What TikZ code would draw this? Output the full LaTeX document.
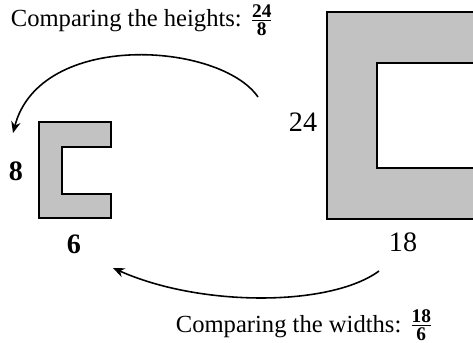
\documentclass[tikz,border=0pt]{standalone}
\usepackage{fontspec}
\usepackage{amsmath}
\setmainfont{Liberation Serif}
\usetikzlibrary{arrows.meta}
\definecolor{cshade}{HTML}{C2C2C2}
\newcommand{\ratiofrac}[2]{$\frac{\text{\fontsize{11}{12}\selectfont\bfseries #1}}{\text{\fontsize{11}{12}\selectfont\bfseries #2}}$}
\tikzset{
  every picture/.style={line width=1pt},
  fig/.style={draw=black, fill=cshade, line width=1.1pt},
  dim/.style={font=\fontsize{16}{19}\selectfont},
  caption/.style={font=\fontsize{14}{17}\selectfont, anchor=base west, inner sep=0pt},
  arrow/.style={-{Stealth[length=2.3mm, width=1.9mm]}, draw=black, line width=0.9pt},
}

\begin{document}
\begin{tikzpicture}[x=0.02cm, y=0.02cm]
  \useasboundingbox (0,0) rectangle (473,342);
  % small C-shaped figure
  \path[fig] (39,220) -- (111,220) -- (111,195) -- (62,195) -- (62,148)
    -- (111,148) -- (111,124) -- (39,124) -- cycle;
  % large frame, cut off at the right
  \begin{scope}
    \clip (0,0) rectangle (473,342);
    \path[fig, even odd rule] (327,123) rectangle (495,330) (377,174) rectangle (495,279);
  \end{scope}
  \node[dim] (hs) at (16,171) {\textbf{8}};
  \node[dim] (ws) at (74,98) {\textbf{6}};
  \node[dim] (hl) at (303,220) {24};
  \node[dim] (wl) at (403,100) {18};
  \node[caption] (ch) at (10,315) {Comparing the heights: \ratiofrac{24}{8}};
  \node[caption] (cw) at (175,10) {Comparing the widths: \ratiofrac{18}{6}};
  \coordinate (hfrom) at (258,245);
  \coordinate (hto) at (13,209);
  \coordinate (wfrom) at (379,71);
  \coordinate (wto) at (113,74);
  \draw[arrow] (hfrom) .. controls (220,300) and (40,312) .. (hto);
  \draw[arrow] (wfrom) .. controls (330,35) and (200,35) .. (wto);
\end{tikzpicture}
\end{document}
